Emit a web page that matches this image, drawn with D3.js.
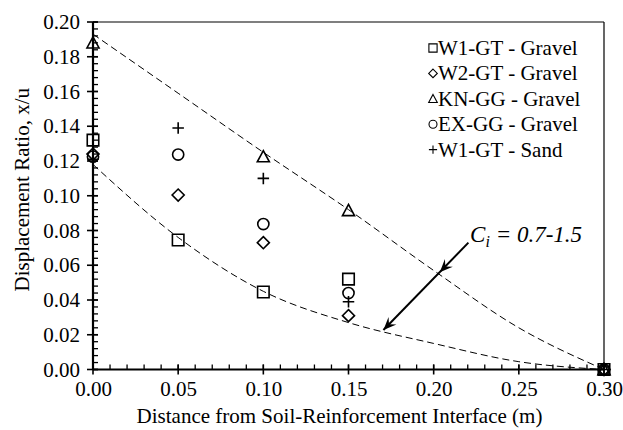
<!DOCTYPE html>
<html>
<head>
<meta charset="utf-8">
<script src="https://cdn.jsdelivr.net/npm/d3@7"></script>
<style>
html,body{margin:0;padding:0;background:#fff;}
svg{display:block;}
svg text{font-family:"Liberation Serif","Times New Roman",serif;}
</style>
</head>
<body>
<svg id="chart" width="623" height="430"></svg>
<script>
// ---- data ----
const seriesNames = ["W1-GT - Gravel", "W2-GT - Gravel", "KN-GG - Gravel", "EX-GG - Gravel", "W1-GT - Sand"];
const seriesShapes = ["square", "diamond", "triangle", "circle", "plus"];
const w1GravelX = [0.00, 0.05, 0.10, 0.15, 0.30];
const w1GravelY = [0.132, 0.0745, 0.0446, 0.052, 0.000];
const w2GravelX = [0.00, 0.05, 0.10, 0.15, 0.30];
const w2GravelY = [0.124, 0.1004, 0.073, 0.031, 0.000];
const knGravelX = [0.00, 0.10, 0.15, 0.30];
const knGravelY = [0.188, 0.1225, 0.0915, 0.000];
const exGravelX = [0.00, 0.05, 0.10, 0.15, 0.30];
const exGravelY = [0.1225, 0.1237, 0.0837, 0.044, 0.000];
const w1SandX = [0.00, 0.05, 0.10, 0.15, 0.30];
const w1SandY = [0.121, 0.139, 0.110, 0.039, 0.000];

// envelope curves (Ci = 0.7 - 1.5)
const envX = [0.00, 0.05, 0.10, 0.15, 0.20, 0.25, 0.30];
const upperEnvY = [0.193, 0.159, 0.125, 0.092, 0.057, 0.024, 0.000];
const lowerEnvY = [0.118, 0.076, 0.045, 0.027, 0.015, 0.0045, 0.000];

const xTickVals = [0.00, 0.05, 0.10, 0.15, 0.20, 0.25, 0.30];
const yTickVals = [0.00, 0.02, 0.04, 0.06, 0.08, 0.10, 0.12, 0.14, 0.16, 0.18, 0.20];
const xMinorStep = 0.01;
const yMinorStep = 0.004;

const xTitle = "Distance from Soil-Reinforcement Interface (m)";
const yTitle = "Displacement Ratio, x/u";
const annotation = {main: "C", sub: "i", rest: " = 0.7-1.5", x: 0.2214, y: 0.0736};
const arrowStart = [0.2204, 0.0730];
const arrowMid = [0.2036, 0.0560];
const arrowEnd = [0.1705, 0.0227];

// ---- layout ----
const W = 623, H = 430;
const m = {left: 93, right: 19, top: 22, bottom: 60.5};
const svg = d3.select("#chart");
const x = d3.scaleLinear().domain([0, 0.30]).range([m.left, W - m.right]);
const y = d3.scaleLinear().domain([0, 0.20]).range([H - m.bottom, m.top]);
const FS = 21;
const FONT = '"Liberation Serif","Times New Roman",serif';

// frame (top/right thin)
svg.append("line").attr("x1", x(0)).attr("x2", x(0.30)).attr("y1", y(0.20)).attr("y2", y(0.20))
  .attr("stroke", "#000").attr("stroke-width", 1.2);
svg.append("line").attr("x1", x(0.30)).attr("x2", x(0.30)).attr("y1", y(0.20)).attr("y2", y(0))
  .attr("stroke", "#000").attr("stroke-width", 1.2);

// envelope curves
const envLine = (ys) => d3.line().x((d, i) => x(envX[i])).y((d, i) => y(ys[i])).curve(d3.curveMonotoneX)(ys);
[upperEnvY, lowerEnvY].forEach(ys => {
  svg.append("path").attr("d", envLine(ys)).attr("fill", "none")
    .attr("stroke", "#000").attr("stroke-width", 1).attr("stroke-dasharray", "7,4");
});

// axes
const axG = svg.append("g");
const xMinor = d3.range(0, 0.3001, xMinorStep);
const yMinor = d3.range(0, 0.2001, yMinorStep);
axG.selectAll(".xminor").data(xMinor).enter().append("line")
  .attr("x1", d => x(d)).attr("x2", d => x(d)).attr("y1", y(0)).attr("y2", y(0) - 5)
  .attr("stroke", "#000").attr("stroke-width", 1.3);
axG.selectAll(".yminor").data(yMinor).enter().append("line")
  .attr("y1", d => y(d)).attr("y2", d => y(d)).attr("x1", x(0)).attr("x2", x(0) + 5)
  .attr("stroke", "#000").attr("stroke-width", 1.3);
axG.selectAll(".xmajor").data(xTickVals).enter().append("line")
  .attr("x1", d => x(d)).attr("x2", d => x(d)).attr("y1", y(0) - 5).attr("y2", y(0) + 5)
  .attr("stroke", "#000").attr("stroke-width", 1.6);
axG.selectAll(".ymajor").data(yTickVals).enter().append("line")
  .attr("y1", d => y(d)).attr("y2", d => y(d)).attr("x1", x(0) - 6).attr("x2", x(0) + 5)
  .attr("stroke", "#000").attr("stroke-width", 1.6);

const xAxis = d3.axisBottom(x).tickValues(xTickVals).tickFormat(d3.format(".2f")).tickSize(0).tickPadding(12);
const xa = svg.append("g").attr("transform", `translate(0,${y(0)})`).call(xAxis)
  .attr("font-family", FONT).attr("font-size", FS);
xa.select(".domain").remove();
xa.selectAll("text").attr("font-size", FS).attr("font-family", FONT).attr("fill", "#000");

const yAxis = d3.axisLeft(y).tickValues(yTickVals).tickFormat(d3.format(".2f")).tickSize(0).tickPadding(13);
const ya = svg.append("g").attr("transform", `translate(${x(0)},0)`).call(yAxis)
  .attr("font-family", FONT).attr("font-size", FS);
ya.select(".domain").remove();
ya.selectAll("text").attr("font-size", FS).attr("font-family", FONT).attr("fill", "#000");

// axis lines (thick)
svg.append("line").attr("x1", x(0)).attr("x2", x(0.30)).attr("y1", y(0)).attr("y2", y(0))
  .attr("stroke", "#000").attr("stroke-width", 2.2);
svg.append("line").attr("x1", x(0)).attr("x2", x(0)).attr("y1", y(0)).attr("y2", y(0.20))
  .attr("stroke", "#000").attr("stroke-width", 2.2);

// titles
svg.append("text").attr("x", (x(0) + x(0.30)) / 2 - 9).attr("y", 423)
  .attr("text-anchor", "middle").attr("font-size", FS).attr("font-family", FONT).text(xTitle);
svg.append("text").attr("transform", `translate(29,${(y(0) + y(0.2)) / 2 - 6}) rotate(-90)`)
  .attr("text-anchor", "middle").attr("font-size", FS).attr("font-family", FONT).text(yTitle);

// marker shapes
function shapePath(shape, s) {
  const h = s / 2;
  switch (shape) {
    case "square": return `M${-h},${-h}H${h}V${h}H${-h}Z`;
    case "diamond": { const d = h * 1.05; return `M0,${-d}L${d},0L0,${d}L${-d},0Z`; }
    case "triangle": { const t = h * 1.05; return `M0,${-t}L${t},${t * 0.85}L${-t},${t * 0.85}Z`; }
    case "plus": return `M${-h},0H${h}M0,${-h}V${h}`;
  }
}
const circlePath = (r) => `M${-r},0A${r},${r} 0 1,0 ${r},0A${r},${r} 0 1,0 ${-r},0Z`;

const seriesX = [w1GravelX, w2GravelX, knGravelX, exGravelX, w1SandX];
const seriesY = [w1GravelY, w2GravelY, knGravelY, exGravelY, w1SandY];
seriesNames.forEach((name, si) => {
  const shape = seriesShapes[si];
  const pts = seriesX[si].map((v, i) => [v, seriesY[si][i]]);
  svg.append("g").selectAll("path").data(pts).enter().append("path")
    .attr("transform", d => `translate(${x(d[0])},${y(d[1])})`)
    .attr("d", shape === "circle" ? circlePath(5.6) : shapePath(shape, 11.5))
    .attr("fill", "none")
    .attr("stroke", "#000").attr("stroke-width", 1.6);
});

// legend
const leg = svg.append("g");
seriesNames.forEach((name, i) => {
  const by = 55 + i * 25.4;
  const shape = seriesShapes[i];
  leg.append("path").attr("transform", `translate(433,${by - 7})`)
    .attr("d", shape === "circle" ? circlePath(4) : shapePath(shape, 8.2))
    .attr("fill", "none").attr("stroke", "#000").attr("stroke-width", 1.1);
  leg.append("text").attr("x", 438).attr("y", by).attr("font-size", FS).attr("font-family", FONT).text(name);
});

// annotation
const ann = svg.append("text").attr("x", x(annotation.x)).attr("y", y(annotation.y))
  .attr("font-size", 23).attr("font-style", "italic").attr("font-family", FONT);
ann.append("tspan").text(annotation.main);
ann.append("tspan").attr("font-size", 16).attr("dy", 5).text(annotation.sub);
ann.append("tspan").attr("dy", -5).text(annotation.rest);

// arrow
const p0 = [x(arrowStart[0]), y(arrowStart[1])];
const p1 = [x(arrowMid[0]), y(arrowMid[1])];
const p2 = [x(arrowEnd[0]), y(arrowEnd[1])];
svg.append("line").attr("x1", p0[0]).attr("y1", p0[1]).attr("x2", p2[0]).attr("y2", p2[1])
  .attr("stroke", "#000").attr("stroke-width", 2);
function arrowHead(tip, from) {
  const dx = tip[0] - from[0], dy = tip[1] - from[1];
  const L = Math.hypot(dx, dy), ux = dx / L, uy = dy / L, nx = -uy, ny = ux;
  const len = 13, wid = 5.5, notch = 8;
  const b1 = [tip[0] - ux * len + nx * wid, tip[1] - uy * len + ny * wid];
  const b2 = [tip[0] - ux * len - nx * wid, tip[1] - uy * len - ny * wid];
  const n = [tip[0] - ux * notch, tip[1] - uy * notch];
  return `M${tip[0]},${tip[1]}L${b1[0]},${b1[1]}L${n[0]},${n[1]}L${b2[0]},${b2[1]}Z`;
}
svg.append("path").attr("d", arrowHead(p1, p0)).attr("fill", "#000");
svg.append("path").attr("d", arrowHead(p2, p0)).attr("fill", "#000");
</script>
</body>
</html>
